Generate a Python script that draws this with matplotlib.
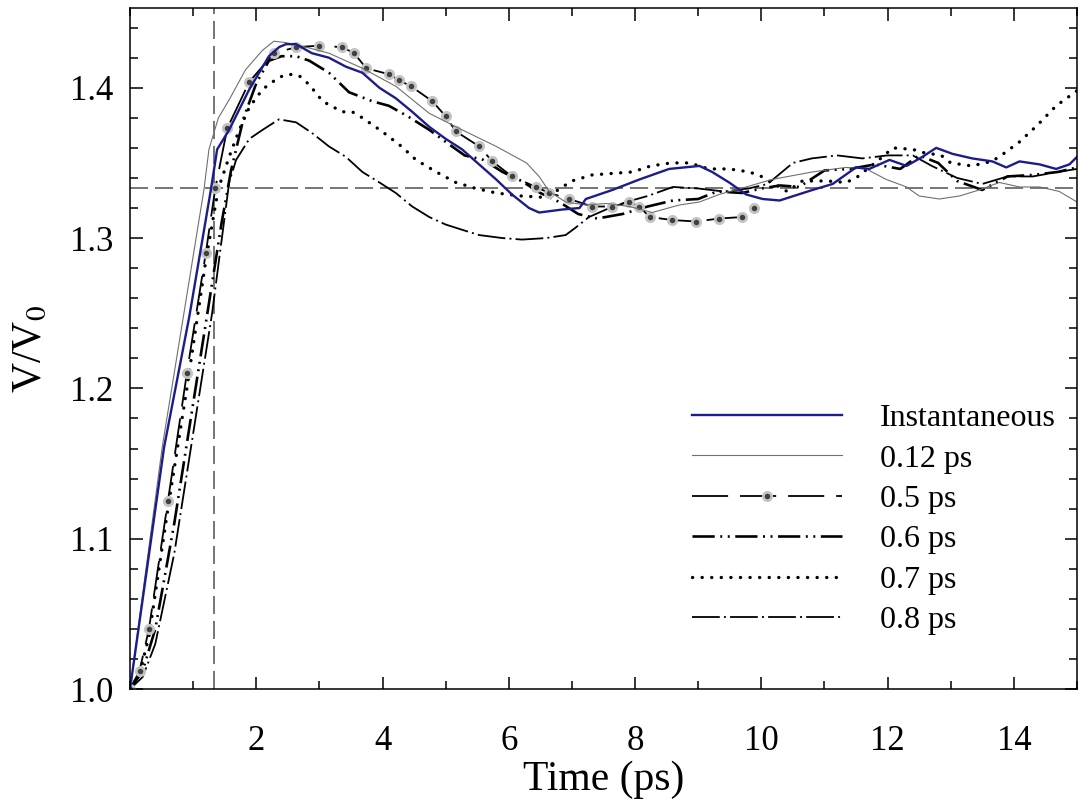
import numpy as np
import matplotlib
matplotlib.use("Agg")
import matplotlib.pyplot as plt
from matplotlib.ticker import MultipleLocator

plt.rcParams['font.family'] = ['Liberation Serif', 'DejaVu Serif']
plt.rcParams['mathtext.fontset'] = 'stix'
plt.rcParams['lines.scale_dashes'] = False

# reference levels
V_EQ = 1.333
T_MARK = 1.333

# Instantaneous
t_inst = [0, 0.54, 0.94, 1.28, 1.38, 1.57, 1.89, 2.2, 2.36, 2.47, 2.63, 2.88, 3.15, 3.42, 3.68,
          3.95, 4.21, 4.47, 4.74, 5.0, 5.26, 5.53, 5.8, 6.05, 6.32, 6.48, 6.85, 7.12, 7.22, 7.64,
          8.07, 8.54, 9.02, 9.22, 9.49, 9.76, 10.02, 10.29, 10.81, 11.13, 11.5, 11.71, 12.03, 12.3,
          12.55, 12.77, 13.03, 13.34, 13.66, 13.88, 14.09, 14.41, 14.67, 14.88, 15.0]
v_inst = [1.0, 1.161, 1.248, 1.332, 1.359, 1.372, 1.399, 1.421, 1.427, 1.429, 1.429, 1.423, 1.420,
          1.414, 1.410, 1.400, 1.393, 1.384, 1.374, 1.366, 1.359, 1.349, 1.339, 1.329, 1.320, 1.317,
          1.319, 1.320, 1.326, 1.332, 1.339, 1.346, 1.348, 1.344, 1.337, 1.329, 1.326, 1.325, 1.332,
          1.336, 1.347, 1.346, 1.352, 1.348, 1.354, 1.360, 1.356, 1.353, 1.351, 1.347, 1.351, 1.349,
          1.346, 1.349, 1.354]

# 0.12 ps
t_012 = [0, 0.51, 1.17, 1.25, 1.4, 1.57, 1.83, 2.1, 2.28, 2.47, 2.79, 3.15, 3.68, 4.21, 4.74, 5.26,
         5.8, 6.28, 6.48, 6.64, 6.9, 7.22, 7.54, 7.91, 8.27, 8.7, 9.02, 9.33, 9.76, 10.17, 10.81,
         11.34, 11.66, 11.98, 12.3, 12.5, 12.82, 13.14, 13.45, 13.77, 14.09, 14.41, 14.72, 15.0]
v_012 = [1.0, 1.161, 1.332, 1.359, 1.380, 1.392, 1.412, 1.425, 1.431, 1.430, 1.427, 1.423, 1.413,
         1.401, 1.383, 1.372, 1.361, 1.350, 1.341, 1.331, 1.324, 1.322, 1.323, 1.321, 1.317, 1.322,
         1.324, 1.329, 1.334, 1.339, 1.344, 1.347, 1.346, 1.339, 1.334, 1.328, 1.326, 1.328, 1.332,
         1.337, 1.334, 1.334, 1.331, 1.324]

# 0.5 ps
t_05 = [0, 0.15, 0.3, 0.6, 0.9, 1.2, 1.35, 1.54, 1.89, 2.28, 2.63, 3.0, 3.36, 3.55, 3.74, 4.1, 4.26,
        4.45, 4.79, 5.0, 5.16, 5.53, 5.74, 6.05, 6.43, 6.64, 6.96, 7.32, 7.64, 7.91, 8.07, 8.23, 8.59,
        8.97, 9.33, 9.7, 9.89]
v_05 = [1.0, 1.012, 1.04, 1.125, 1.21, 1.29, 1.333, 1.373, 1.404, 1.423, 1.427, 1.428, 1.427, 1.423,
        1.413, 1.409, 1.405, 1.401, 1.391, 1.381, 1.371, 1.361, 1.351, 1.341, 1.334, 1.330, 1.326,
        1.321, 1.321, 1.324, 1.321, 1.314, 1.312, 1.311, 1.313, 1.314, 1.320]

# 0.6 ps
t_06 = [0, 0.2, 0.4, 0.7, 1.0, 1.3, 1.45, 1.6, 1.8, 2.0, 2.2, 2.4, 2.63, 2.84, 3.15, 3.47, 3.84, 4.1,
        4.4, 4.74, 5.0, 5.3, 5.6, 5.9, 6.2, 6.5, 6.8, 7.1, 7.4, 7.8, 8.2, 8.6, 9.0, 9.3, 9.7, 10.0,
        10.3, 10.6, 11.0, 11.4, 11.8, 12.2, 12.5, 12.8, 13.1, 13.5, 13.9, 14.3, 14.7, 15.0]
v_06 = [1.0, 1.012, 1.04, 1.11, 1.19, 1.27, 1.31, 1.345, 1.38, 1.403, 1.418, 1.421, 1.421, 1.418,
        1.410, 1.397, 1.391, 1.388, 1.381, 1.372, 1.364, 1.355, 1.352, 1.344, 1.338, 1.330, 1.324,
        1.316, 1.313, 1.316, 1.321, 1.325, 1.326, 1.331, 1.330, 1.333, 1.335, 1.334, 1.345, 1.346,
        1.349, 1.346, 1.355, 1.350, 1.338, 1.332, 1.341, 1.342, 1.344, 1.347]

# 0.7 ps
t_07 = [0, 0.15, 0.3, 0.6, 0.9, 1.2, 1.4, 1.57, 1.73, 1.89, 2.1, 2.36, 2.52, 2.68, 2.84, 3.05, 3.36,
        3.52, 3.68, 3.99, 4.3, 4.53, 4.85, 5.16, 5.48, 5.8, 6.2, 6.6, 6.85, 7.0, 7.32, 7.64, 7.96,
        8.25, 8.57, 8.86, 9.17, 9.49, 9.81, 10.0, 10.41, 10.65, 11.03, 11.34, 11.5, 11.92, 12.08,
        12.4, 12.55, 12.85, 13.0, 13.33, 13.65, 13.8, 14.09, 14.37, 14.67, 15.0]
v_07 = [1.0, 1.01, 1.035, 1.12, 1.2, 1.285, 1.333, 1.354, 1.372, 1.387, 1.399, 1.407, 1.409, 1.408,
        1.402, 1.391, 1.384, 1.384, 1.380, 1.371, 1.361, 1.352, 1.344, 1.337, 1.333, 1.330, 1.328,
        1.327, 1.334, 1.338, 1.342, 1.343, 1.344, 1.348, 1.350, 1.350, 1.346, 1.346, 1.344, 1.341,
        1.331, 1.338, 1.338, 1.337, 1.340, 1.354, 1.360, 1.359, 1.357, 1.355, 1.350, 1.348, 1.351,
        1.355, 1.364, 1.375, 1.388, 1.398]

# 0.8 ps
t_08 = [0, 0.2, 0.4, 0.7, 1.0, 1.3, 1.57, 1.68, 1.89, 2.1, 2.36, 2.63, 2.88, 3.15, 3.42, 3.68, 3.95,
        4.21, 4.47, 4.74, 5.0, 5.3, 5.53, 5.9, 6.21, 6.59, 6.9, 7.06, 7.27, 7.54, 7.86, 8.2, 8.6, 9.0,
        9.4, 9.8, 10.1, 10.3, 10.5, 10.8, 11.2, 11.6, 12.0, 12.4, 12.7, 13.1, 13.5, 13.9, 14.3, 14.7,
        15.0]
v_08 = [1.0, 1.008, 1.03, 1.09, 1.17, 1.25, 1.337, 1.352, 1.366, 1.372, 1.379, 1.377, 1.370, 1.361,
        1.354, 1.344, 1.337, 1.330, 1.321, 1.314, 1.309, 1.305, 1.302, 1.300, 1.299, 1.300, 1.302,
        1.307, 1.314, 1.319, 1.324, 1.328, 1.334, 1.333, 1.331, 1.333, 1.336, 1.343, 1.350, 1.353,
        1.355, 1.353, 1.355, 1.355, 1.348, 1.340, 1.336, 1.341, 1.341, 1.344, 1.346]

fig = plt.figure(figsize=(10.8, 8.09), dpi=100)
ax = fig.add_axes([0.1204, 0.1483, 0.8768, 0.8417])

ax.axhline(V_EQ, color='#505050', lw=1.1, dashes=(13, 5), zorder=1)
ax.axvline(T_MARK, color='#505050', lw=1.1, dashes=(13, 5), zorder=1)

l08, = ax.plot(t_08, v_08, color='black', lw=1.3, dashes=(20, 3, 1.4, 3), label='0.8 ps')
l07, = ax.plot(t_07, v_07, color='black', lw=2.4, dashes=(0.1, 6.8), dash_capstyle='round',
               label='0.7 ps')
l06, = ax.plot(t_06, v_06, color='black', lw=1.9, dashes=(16, 4, 1.4, 4, 1.4, 4), label='0.6 ps')
l05, = ax.plot(t_05, v_05, color='black', lw=1.3, dashes=(26, 8.6), marker='o', ms=6,
               mfc='#404040', mec='#c4c4c4', mew=2.0, label='0.5 ps')
l012, = ax.plot(t_012, v_012, color='#707070', lw=0.8, label='0.12 ps')
linst, = ax.plot(t_inst, v_inst, color='#1c1c8a', lw=1.7, label='Instantaneous')

ax.set_xlim(0, 15)
ax.set_ylim(1.0, 1.453)
ax.set_xticks([2, 4, 6, 8, 10, 12, 14])
ax.xaxis.set_minor_locator(MultipleLocator(1))
ax.set_yticks([1.0, 1.1, 1.2, 1.3, 1.4])
ax.set_yticklabels(['1.0', '1.1', '1.2', '1.3', '1.4'])
ax.yaxis.set_minor_locator(MultipleLocator(0.02))

ax.tick_params(which='both', direction='in', top=True, right=True, labelsize=25, width=1.1)
ax.tick_params(which='major', length=9)
ax.tick_params(which='minor', length=6)
ax.tick_params(axis='x', which='major', pad=26)
ax.tick_params(axis='y', which='major', pad=12)
for s in ax.spines.values():
    s.set_linewidth(1.1)

ax.set_xlabel('Time (ps)', fontsize=30, labelpad=2)
ax.set_ylabel(r'V/V$_0$', fontsize=30, labelpad=14)

ax.legend(handles=[linst, l012, l05, l06, l07, l08], loc='upper left',
          bbox_to_anchor=(0.563, 0.461), frameon=False, fontsize=23,
          handlelength=4.7, handletextpad=1.19, labelspacing=0.345, numpoints=1)

fig.savefig('out.png', dpi=100)
